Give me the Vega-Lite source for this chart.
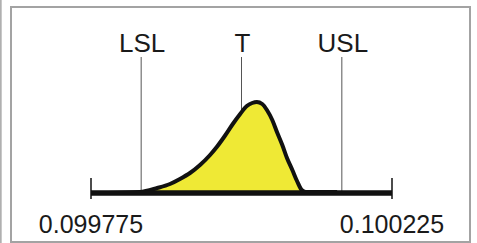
{
  "$schema": "https://vega.github.io/schema/vega-lite/v6.json",
  "width": 459,
  "height": 235,
  "autosize": {"type": "none"},
  "padding": {"left": 11, "top": 7, "right": 7, "bottom": 1},
  "background": "white",
  "config": {"view": {"stroke": "#a3a3a3", "strokeWidth": 2}},
  "datasets": {
    "curve": [
      {"x": 0.099800, "h": 0},
      {"x": 0.099848, "h": 1},
      {"x": 0.099874, "h": 5},
      {"x": 0.099893, "h": 9},
      {"x": 0.099908, "h": 14},
      {"x": 0.099923, "h": 20},
      {"x": 0.099938, "h": 28},
      {"x": 0.099953, "h": 38},
      {"x": 0.099963, "h": 46},
      {"x": 0.099975, "h": 57},
      {"x": 0.099987, "h": 69},
      {"x": 0.099998, "h": 79},
      {"x": 0.100008, "h": 87},
      {"x": 0.100016, "h": 90},
      {"x": 0.100023, "h": 91},
      {"x": 0.100031, "h": 89},
      {"x": 0.100038, "h": 83},
      {"x": 0.100046, "h": 73},
      {"x": 0.100053, "h": 61},
      {"x": 0.100061, "h": 48},
      {"x": 0.100068, "h": 35},
      {"x": 0.100076, "h": 23},
      {"x": 0.100083, "h": 12},
      {"x": 0.100090, "h": 3},
      {"x": 0.100096, "h": 1},
      {"x": 0.100143, "h": 1}
    ],
    "limits": [
      {"label": "LSL", "x": 0.09985},
      {"label": "T", "x": 0.1},
      {"label": "USL", "x": 0.10015}
    ],
    "ends": [
      {"label": "0.099775", "x": 0.099775},
      {"label": "0.100225", "x": 0.100225}
    ],
    "frame": [{"x": 0.09964}]
  },
  "layer": [
    {
      "data": {"name": "frame"},
      "mark": {"type": "rule", "color": "#b0b0b0", "strokeWidth": 2},
      "encoding": {
        "x": {"field": "x", "type": "quantitative", "scale": {"domain": [0.099775, 0.100225], "range": [80, 381], "nice": false, "zero": false}, "axis": null},
        "y": {"datum": 193, "type": "quantitative", "scale": {"domain": [-49, 186], "nice": false, "zero": false}, "axis": null},
        "y2": {"datum": -50}
      }
    },
    {
      "data": {"name": "limits"},
      "mark": {"type": "rule", "color": "#555555", "strokeWidth": 1},
      "encoding": {
        "x": {"field": "x", "type": "quantitative"},
        "y": {"datum": 136, "type": "quantitative"},
        "y2": {"datum": 0}
      }
    },
    {
      "data": {"name": "curve"},
      "mark": {"type": "area", "color": "#efe935", "interpolate": "monotone", "opacity": 1},
      "encoding": {
        "x": {"field": "x", "type": "quantitative"},
        "y": {"field": "h", "type": "quantitative"},
        "y2": {"datum": 0}
      }
    },
    {
      "data": {"name": "curve"},
      "mark": {"type": "line", "color": "#111111", "strokeWidth": 4, "interpolate": "monotone", "strokeJoin": "round"},
      "encoding": {
        "x": {"field": "x", "type": "quantitative"},
        "y": {"field": "h", "type": "quantitative"}
      }
    },
    {
      "data": {"name": "ends"},
      "mark": {"type": "rule", "color": "#111111", "strokeWidth": 1.5},
      "encoding": {
        "x": {"field": "x", "type": "quantitative"},
        "y": {"datum": 15, "type": "quantitative"},
        "y2": {"datum": -6}
      }
    },
    {
      "data": {"name": "ends"},
      "mark": {"type": "rule", "color": "#111111", "strokeWidth": 5},
      "encoding": {
        "x": {"datum": 0.099775, "type": "quantitative"},
        "x2": {"datum": 0.100225},
        "y": {"datum": 0, "type": "quantitative"}
      }
    },
    {
      "data": {"name": "ends"},
      "mark": {"type": "text", "font": "Liberation Sans", "fontSize": 25, "color": "#1a1a1a", "align": "center", "baseline": "alphabetic"},
      "encoding": {
        "x": {"field": "x", "type": "quantitative"},
        "y": {"datum": -40, "type": "quantitative"},
        "text": {"field": "label"}
      }
    },
    {
      "data": {"name": "limits"},
      "mark": {"type": "text", "font": "Liberation Sans", "fontSize": 26, "color": "#1a1a1a", "align": "center", "baseline": "alphabetic", "dx": 1},
      "encoding": {
        "x": {"field": "x", "type": "quantitative"},
        "y": {"datum": 141, "type": "quantitative"},
        "text": {"field": "label"}
      }
    }
  ]
}
